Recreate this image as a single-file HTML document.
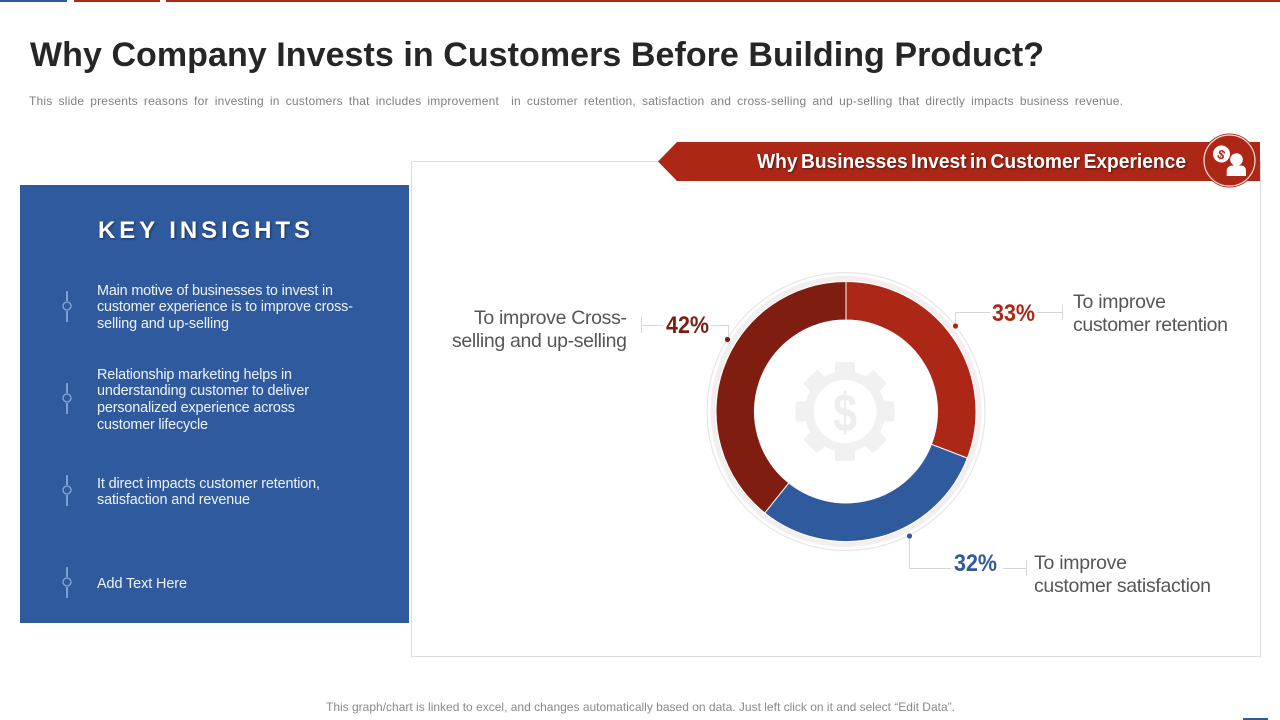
<!DOCTYPE html>
<html lang="en">
<head>
<meta charset="utf-8">
<title>Why Company Invests in Customers Before Building Product?</title>
<style>
html,body{margin:0;padding:0;background:#fff;width:1280px;height:720px;overflow:hidden}
svg{display:block}
text{font-family:"Liberation Sans",Arial,sans-serif}
.body-text{font-size:14.4px;fill:#eef3fa}
.cat-text{font-size:19.5px;fill:#565656}
.pct{font-size:24px;font-weight:bold}
.lead{fill:none;stroke:#d6d6d6;stroke-width:1}
.step-line{stroke:#7d9fd2;stroke-width:2;fill:none}
.step-dot{stroke:#7d9fd2;stroke-width:1.5;fill:#2f5a9e}
.note{font-size:12px;fill:#8a8a8a}
.slice-0{fill:#ad2717}.slice-1{fill:#2f5a9e}.slice-2{fill:#7f1d10}
</style>
</head>
<body>
<svg xmlns="http://www.w3.org/2000/svg" width="1280" height="720" viewBox="0 0 1280 720">
  <rect x="0" y="0" width="67" height="2" fill="#2f5a9e"/>
  <rect x="74" y="0" width="86" height="2" fill="#ad2717"/>
  <rect x="166" y="0" width="1114" height="2" fill="#ad2717"/>

  <text x="30" y="66" font-size="34" font-weight="bold" fill="#262626" textLength="1014" lengthAdjust="spacing">Why Company Invests in Customers Before Building Product?</text>
  <text x="29" y="105" font-size="12" fill="#808080" textLength="1094" lengthAdjust="spacing" style="word-spacing:2.5px;white-space:pre">This slide presents reasons for investing in customers that includes improvement  in customer retention, satisfaction and cross-selling and up-selling that directly impacts business revenue.</text>

  <g>
    <rect x="20" y="185" width="389" height="438" fill="#2f5a9e"/>
    <text x="98" y="238" font-size="24" font-weight="bold" fill="#fff" textLength="212" lengthAdjust="spacing" style="filter:drop-shadow(1.5px 1.5px 1px rgba(0,0,0,.45))">KEY INSIGHTS</text>

    <g>
      <path class="step-line" d="M67 291V301M67 311V322"/>
      <circle class="step-dot" cx="67" cy="306" r="4"/>
      <text class="body-text" x="97" y="295" textLength="236" lengthAdjust="spacing">Main motive of businesses to invest in</text>
      <text class="body-text" x="97" y="311" textLength="256" lengthAdjust="spacing">customer experience is to improve cross-</text>
      <text class="body-text" x="97" y="328" textLength="132" lengthAdjust="spacing">selling and up-selling</text>
    </g>
    <g>
      <path class="step-line" d="M67 383V393M67 403V414"/>
      <circle class="step-dot" cx="67" cy="398" r="4"/>
      <text class="body-text" x="97" y="379" textLength="195" lengthAdjust="spacing">Relationship marketing helps in</text>
      <text class="body-text" x="97" y="395" textLength="212" lengthAdjust="spacing">understanding customer to deliver</text>
      <text class="body-text" x="97" y="412" textLength="198" lengthAdjust="spacing">personalized experience across</text>
      <text class="body-text" x="97" y="429" textLength="111" lengthAdjust="spacing">customer lifecycle</text>
    </g>
    <g>
      <path class="step-line" d="M67 475V485M67 495V506"/>
      <circle class="step-dot" cx="67" cy="490" r="4"/>
      <text class="body-text" x="97" y="488" textLength="223" lengthAdjust="spacing">It direct impacts customer retention,</text>
      <text class="body-text" x="97" y="504" textLength="153" lengthAdjust="spacing">satisfaction and revenue</text>
    </g>
    <g>
      <path class="step-line" d="M67 567V577M67 587V598"/>
      <circle class="step-dot" cx="67" cy="582" r="4"/>
      <text class="body-text" x="97" y="588" textLength="90" lengthAdjust="spacing">Add Text Here</text>
    </g>
  </g>

  <rect x="411.5" y="161.5" width="849" height="495" fill="#fff" stroke="#dcdcdc"/>

  <g>
    <polygon points="658,161.5 677,142 1260,142 1260,181 677,181" fill="#ad2717"/>
    <text x="757" y="168" font-size="20.5" font-weight="bold" fill="#fff" textLength="429" lengthAdjust="spacingAndGlyphs" style="word-spacing:-2px;filter:drop-shadow(1px 1px 1px rgba(0,0,0,.5))">Why Businesses Invest in Customer Experience</text>
    <g>
      <circle cx="1229.5" cy="160.5" r="27" fill="#ad2717"/>
      <circle cx="1229.5" cy="160.5" r="25.5" fill="none" stroke="#f6e0dc" stroke-width="1.2"/>
      <circle cx="1221.5" cy="154" r="8.5" fill="#fff"/>
      <text x="1221.5" y="159" font-size="13" font-weight="bold" fill="#ad2717" text-anchor="middle" transform="rotate(20 1221.5 154)">$</text>
      <circle cx="1236.5" cy="159.5" r="6.3" fill="#fff"/>
      <path d="M1226.7 176v-5.5c0-3 3-5 5.5-5h9c2.500 0 4.800 2 4.800 5v5.500z" fill="#fff"/>
    </g>
  </g>

  <g id="donut-chart">
    <circle cx="846" cy="411.5" r="139" fill="none" stroke="#e6e6e6" stroke-width="1.2"/>
    <circle cx="846" cy="411.5" r="133" fill="none" stroke="#f4eeee" stroke-width="5"/>
    <g id="slices"></g>
    <g id="center-icon">
      <g id="gear-teeth" fill="#f1f1f1"></g>
      <circle cx="845" cy="411.5" r="36" fill="none" stroke="#f1f1f1" stroke-width="9"/>
      <text x="833" y="431" font-size="54" font-weight="bold" fill="#eeeeee" textLength="24" lengthAdjust="spacingAndGlyphs">$</text>
    </g>
  </g>

  <g>
    <path class="lead" d="M955.5 326V312.5H990M1037 312.5H1062.5M1062.5 305V320"/>
    <circle cx="955.5" cy="326" r="2.6" fill="#ad2717"/>
    <text id="pct-0" class="pct" x="992" y="321" fill="#ad2717" textLength="43" lengthAdjust="spacingAndGlyphs"></text>
    <text class="cat-text" x="1073" y="308" textLength="93" lengthAdjust="spacing">To improve</text>
    <text class="cat-text" x="1073" y="331" textLength="155" lengthAdjust="spacing">customer retention</text>
  </g>
  <g>
    <path class="lead" d="M909.5 536V568.5H951M1003 568.5H1026.5M1026.5 560V576"/>
    <circle cx="909.5" cy="536" r="2.6" fill="#2f5a9e"/>
    <text id="pct-1" class="pct" x="954" y="571" fill="#2f5a9e" textLength="43" lengthAdjust="spacingAndGlyphs"></text>
    <text class="cat-text" x="1034" y="569" textLength="93" lengthAdjust="spacing">To improve</text>
    <text class="cat-text" x="1034" y="592" textLength="177" lengthAdjust="spacing">customer satisfaction</text>
  </g>
  <g>
    <path class="lead" d="M641.5 317V333M641.5 325.5H663M711 325.5H728.5V339"/>
    <circle cx="727.5" cy="339.5" r="2.6" fill="#7f1d10"/>
    <text id="pct-2" class="pct" x="666" y="333" fill="#7f1d10" textLength="43" lengthAdjust="spacingAndGlyphs"></text>
    <text class="cat-text" x="474" y="324" textLength="153" lengthAdjust="spacing">To improve Cross-</text>
    <text class="cat-text" x="452" y="347" textLength="175" lengthAdjust="spacing">selling and up-selling</text>
  </g>

  <text class="note" x="326" y="711" textLength="629" lengthAdjust="spacing">This graph/chart is linked to excel, and changes automatically based on data. Just left click on it and select “Edit Data”.</text>
  <rect x="1243" y="718" width="25" height="2" fill="#2f5a9e"/>
</svg>
<script>
const categories = ["Customer retention", "Customer satisfaction", "Cross-selling and up-selling"];
const values = [33, 32, 42];

const SVG_NS = "http://www.w3.org/2000/svg";
const cx = 846, cy = 411.5, outerR = 130, innerR = 91.5;

function angleScale(v, total) { return v / total * Math.PI * 2; }
function polar(r, a) { return [cx + r * Math.sin(a), cy - r * Math.cos(a)]; }

const total = values.reduce(function (a, b) { return a + b; }, 0);
const slicesGroup = document.getElementById("slices");
let running = 0;
values.forEach(function (v, i) {
  const a0 = angleScale(running, total);
  running += v;
  const a1 = angleScale(running, total);
  const large = a1 - a0 > Math.PI ? 1 : 0;
  const p0 = polar(outerR, a0), p1 = polar(outerR, a1), p2 = polar(innerR, a1), p3 = polar(innerR, a0);
  const path = document.createElementNS(SVG_NS, "path");
  path.setAttribute("d", "M" + p0 + "A" + outerR + " " + outerR + " 0 " + large + " 1 " + p1 +
    "L" + p2 + "A" + innerR + " " + innerR + " 0 " + large + " 0 " + p3 + "Z");
  path.setAttribute("class", "slice-" + i);
  path.setAttribute("stroke", "#fff");
  path.setAttribute("stroke-width", "1");
  
  
  const tip = document.createElementNS(SVG_NS, "title");
  tip.textContent = categories[i] + ": " + v + "%";
  path.appendChild(tip);
  slicesGroup.appendChild(path);
  document.getElementById("pct-" + i).textContent = v + "%";
});

const teeth = document.getElementById("gear-teeth");
for (let k = 0; k < 8; k++) {
  const tooth = document.createElementNS(SVG_NS, "rect");
  tooth.setAttribute("x", 845 - 10);
  tooth.setAttribute("y", cy - 49.5);
  tooth.setAttribute("width", 20);
  tooth.setAttribute("height", 12);
  tooth.setAttribute("rx", 2);
  tooth.setAttribute("transform", "rotate(" + (k * 45) + " 845 " + cy + ")");
  
  
  teeth.appendChild(tooth);
}
</script>
</body>
</html>
